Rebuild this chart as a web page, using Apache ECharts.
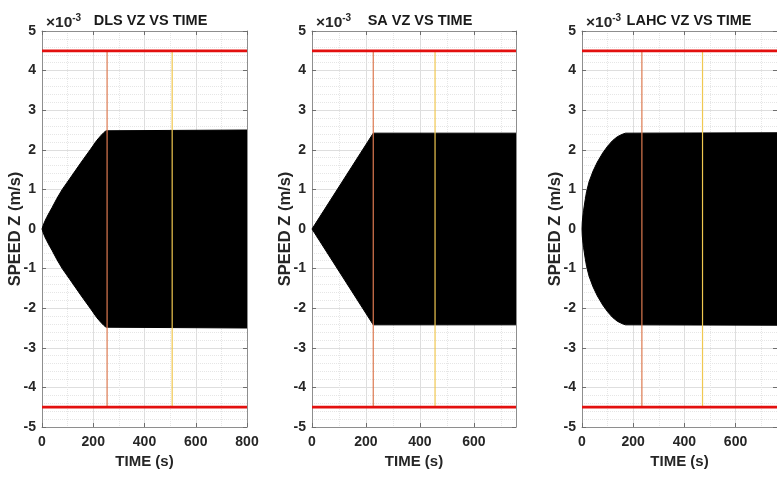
<!DOCTYPE html>
<html>
<head>
<meta charset="utf-8">
<script src="https://cdn.jsdelivr.net/npm/echarts@6/dist/echarts.min.js"></script>
<style>
  html, body { margin: 0; padding: 0; background: #fff; }
  #chart { width: 777px; height: 477px; }
</style>
</head>
<body>
<div id="chart"></div>
<script>
// values are in units of 1e-3 m/s (axis shows x10^-3)
let titles = ['DLS VZ VS TIME', 'SA VZ VS TIME', 'LAHC VZ VS TIME'];
let xMax = [800, 756, 762];

// envelope of the oscillating speed (upper edge, lower is mirrored)
let dlsTime = [0, 4, 10, 18, 28, 40, 58, 79, 105, 133, 160, 188, 214, 230, 242, 250, 254, 800];
let dlsEnv  = [0, 0.08, 0.18, 0.29, 0.41, 0.55, 0.77, 1.0, 1.24, 1.5, 1.75, 2.0, 2.24, 2.36, 2.44, 2.48, 2.5, 2.5];
let saTime  = [0, 227, 756];
let saEnv   = [0, 2.42, 2.42];
let lahcTime = [0, 1, 3, 6, 11, 18, 28, 43, 60, 81, 100, 119, 138, 157, 170, 176, 762];
let lahcEnv  = [0, 0.17, 0.3, 0.46, 0.68, 0.95, 1.2, 1.46, 1.69, 1.92, 2.09, 2.23, 2.33, 2.39, 2.42, 2.43, 2.43];

let limitValue = 4.5;
// vertical marker lines (time)
let marker1 = [254, 227, 234];
let marker2 = [508, 456, 471];

let envTimes = [dlsTime, saTime, lahcTime];
let envVals = [dlsEnv, saEnv, lahcEnv];

let grids = [
    { left: 42, top: 31, width: 205, height: 396 },
    { left: 312, top: 31, width: 204, height: 396 },
    { left: 582, top: 31, width: 202, height: 396 }
];

let fontFam = '"Liberation Sans", Arial, Helvetica, sans-serif';
let labelStyle = { color: '#262626', fontWeight: 'bold', fontSize: 14, fontFamily: fontFam };

let xAxes = [], yAxes = [], series = [], titleList = [];

for (let i = 0; i < 3; i++) {
    xAxes.push({
        gridIndex: i,
        type: 'value',
        position: 'bottom',
        min: 0,
        max: xMax[i],
        interval: 200,
        name: 'TIME (s)',
        nameLocation: 'middle',
        nameGap: 25,
        nameTextStyle: { color: '#262626', fontWeight: 'bold', fontSize: 15, fontFamily: fontFam },
        axisLabel: Object.assign({ margin: 8, showMaxLabel: i === 0 }, labelStyle),
        axisLine: { show: true, onZero: false, lineStyle: { color: '#8e8e8e', width: 1 } },
        axisTick: { show: true, inside: true, length: 4, lineStyle: { color: '#6e6e6e' } },
        minorTick: { show: false, splitNumber: 2 },
        splitLine: { show: true, lineStyle: { color: '#dedede', width: 1 } },
        minorSplitLine: { show: true, lineStyle: { color: '#e6e6e6', width: 1, type: 'dotted' } }
    });
    yAxes.push({
        gridIndex: i,
        type: 'value',
        position: 'left',
        min: -5,
        max: 5,
        interval: 1,
        name: 'SPEED Z (m/s)',
        nameLocation: 'middle',
        nameGap: 18,
        nameMoveOverlap: false,
        nameTextStyle: { color: '#262626', fontWeight: 'bold', fontSize: 16.5, fontFamily: fontFam },
        axisLabel: Object.assign({ margin: 6 }, labelStyle),
        axisLine: { show: true, onZero: false, lineStyle: { color: '#8e8e8e', width: 1 } },
        axisTick: { show: true, inside: true, length: 4, lineStyle: { color: '#6e6e6e' } },
        minorTick: { show: false, splitNumber: 5 },
        splitLine: { show: true, lineStyle: { color: '#dedede', width: 1 } },
        minorSplitLine: { show: true, lineStyle: { color: '#e6e6e6', width: 1, type: 'dotted' } }
    });
}
// box: top and right axes with inward ticks, no labels
for (let i = 0; i < 3; i++) {
    xAxes.push({
        gridIndex: i, type: 'value', position: 'top', min: 0, max: xMax[i], interval: 200,
        axisLine: { show: true, onZero: false, lineStyle: { color: '#8e8e8e' } },
        axisTick: { show: true, inside: true, length: 4, lineStyle: { color: '#6e6e6e' } },
        axisLabel: { show: false }, splitLine: { show: false }
    });
    yAxes.push({
        gridIndex: i, type: 'value', position: 'right', min: -5, max: 5, interval: 1,
        axisLine: { show: true, onZero: false, lineStyle: { color: '#8e8e8e' } },
        axisTick: { show: true, inside: true, length: 4, lineStyle: { color: '#6e6e6e' } },
        axisLabel: { show: false }, splitLine: { show: false }
    });
}

for (let i = 0; i < 3; i++) {
    let t = envTimes[i], v = envVals[i];
    let upper = t.map((x, k) => [x, v[k]]);
    let lower = t.map((x, k) => [x, -v[k]]);
    [upper, lower].forEach(d => series.push({
        type: 'line', xAxisIndex: i, yAxisIndex: i, data: d, symbol: 'none',
        lineStyle: { color: '#000', width: 1 },
        areaStyle: { color: '#000', opacity: 1 },
        z: 2, silent: true
    }));
    [limitValue, -limitValue].forEach(y => series.push({
        type: 'line', xAxisIndex: i, yAxisIndex: i, symbol: 'none',
        data: [[0, y], [xMax[i], y]],
        lineStyle: { color: '#e3100f', width: 2.8 },
        z: 4, silent: true
    }));
    series.push({
        type: 'line', xAxisIndex: i, yAxisIndex: i, symbol: 'none',
        data: [[marker1[i], -limitValue], [marker1[i], limitValue]],
        lineStyle: { color: '#dc7a50', width: 1.2 },
        z: 3, silent: true
    });
    series.push({
        type: 'line', xAxisIndex: i, yAxisIndex: i, symbol: 'none',
        data: [[marker2[i], -limitValue], [marker2[i], limitValue]],
        lineStyle: { color: '#f0c850', width: 1.2 },
        z: 3, silent: true
    });

    let g = grids[i];
    titleList.push({
        text: titles[i],
        left: g.left + g.width / 2 + 1,
        top: 8,
        textAlign: 'center',
        textStyle: { color: '#1a1a1a', fontWeight: 'bold', fontSize: 14.5, fontFamily: fontFam }
    });
    titleList.push({
        text: '{a|\u00d710}{b|-3}',
        left: g.left - 1,
        top: 8,
        textStyle: {
            rich: {
                a: { color: '#262626', fontSize: 15.5, fontFamily: fontFam },
                b: { color: '#262626', fontSize: 10, fontFamily: fontFam, padding: [0, 0, 10, 0] }
            }
        }
    });
}

let option = {
    animation: false,
    backgroundColor: '#fff',
    title: titleList,
    grid: grids,
    xAxis: xAxes,
    yAxis: yAxes,
    series: series
};

let chart = echarts.init(document.getElementById('chart'));
chart.setOption(option);
</script>
</body>
</html>
